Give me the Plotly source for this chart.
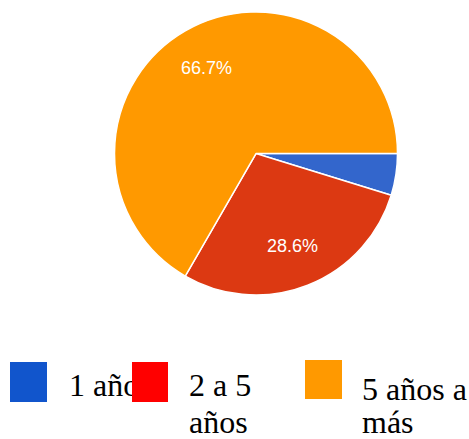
import math
import plotly.graph_objects as go

categories = ["1 año", "2 a 5 años", "5 años a más"]
values = [1, 6, 14]
slice_colors = ["#3366CC", "#DC3912", "#FF9900"]
legend_colors = ["#1155CC", "#FF0000", "#FF9900"]
legend_lines = [["1 año"], ["2 a 5", "años"], ["5 años a", "más"]]

W, H = 469, 439
CX, CY, R = 256, 153.5, 141.5

total = sum(values)

fig = go.Figure()
fig.add_trace(go.Pie(
    labels=categories,
    values=values,
    sort=False,
    direction="clockwise",
    rotation=90,
    marker=dict(colors=slice_colors, line=dict(color="white", width=1.5)),
    textinfo="none",
    domain=dict(x=[(CX - R) / W, (CX + R) / W], y=[1 - (CY + R) / H, 1 - (CY - R) / H]),
    showlegend=False,
    hoverinfo="label+percent",
))

annotations = []
# percentage labels placed at slice mid-angle (clockwise from 3 o'clock)
cum = 0
for v in values:
    frac = v / total
    mid = (cum + frac / 2) * 2 * math.pi
    cum += frac
    if frac < 0.05:
        continue
    px = CX + 0.7 * R * math.cos(mid)
    py = CY + 0.7 * R * math.sin(mid)
    annotations.append(dict(
        text=f"{frac * 100:.1f}%", xref="paper", yref="paper",
        x=px / W, y=1 - py / H, xanchor="center", yanchor="middle",
        showarrow=False,
        font=dict(family="Liberation Sans, Arial", size=18, color="white"),
    ))

# custom legend: squares (drawn as boxes, later ones on top) + serif text
sq = [(10, 362, 47, 402), (132, 362, 168, 402), (305, 360, 342, 399)]
txt_x = [67, 187, 360]
txt_tops = [[365], [365, 402], [369, 402]]
for i in range(3):
    x0, y0, x1, y1 = sq[i]
    annotations.append(dict(
        text=" ", xref="paper", yref="paper",
        x=x0 / W, y=1 - y0 / H, xanchor="left", yanchor="top",
        width=x1 - x0, height=y1 - y0, bgcolor=legend_colors[i],
        borderpad=0, borderwidth=0, showarrow=False,
        font=dict(size=1),
    ))
    for j, line in enumerate(legend_lines[i]):
        annotations.append(dict(
            text=line, xref="paper", yref="paper",
            x=txt_x[i] / W, y=1 - txt_tops[i][j] / H,
            xanchor="left", yanchor="top", showarrow=False,
            font=dict(family="Liberation Serif, Times New Roman", size=32, color="black"),
        ))

fig.update_layout(
    width=W, height=H,
    margin=dict(l=0, r=0, t=0, b=0),
    paper_bgcolor="white", plot_bgcolor="white",
    annotations=annotations,
)

fig.write_html("out.html", config={"displayModeBar": False},
               post_script="document.body.style.margin='0';")
